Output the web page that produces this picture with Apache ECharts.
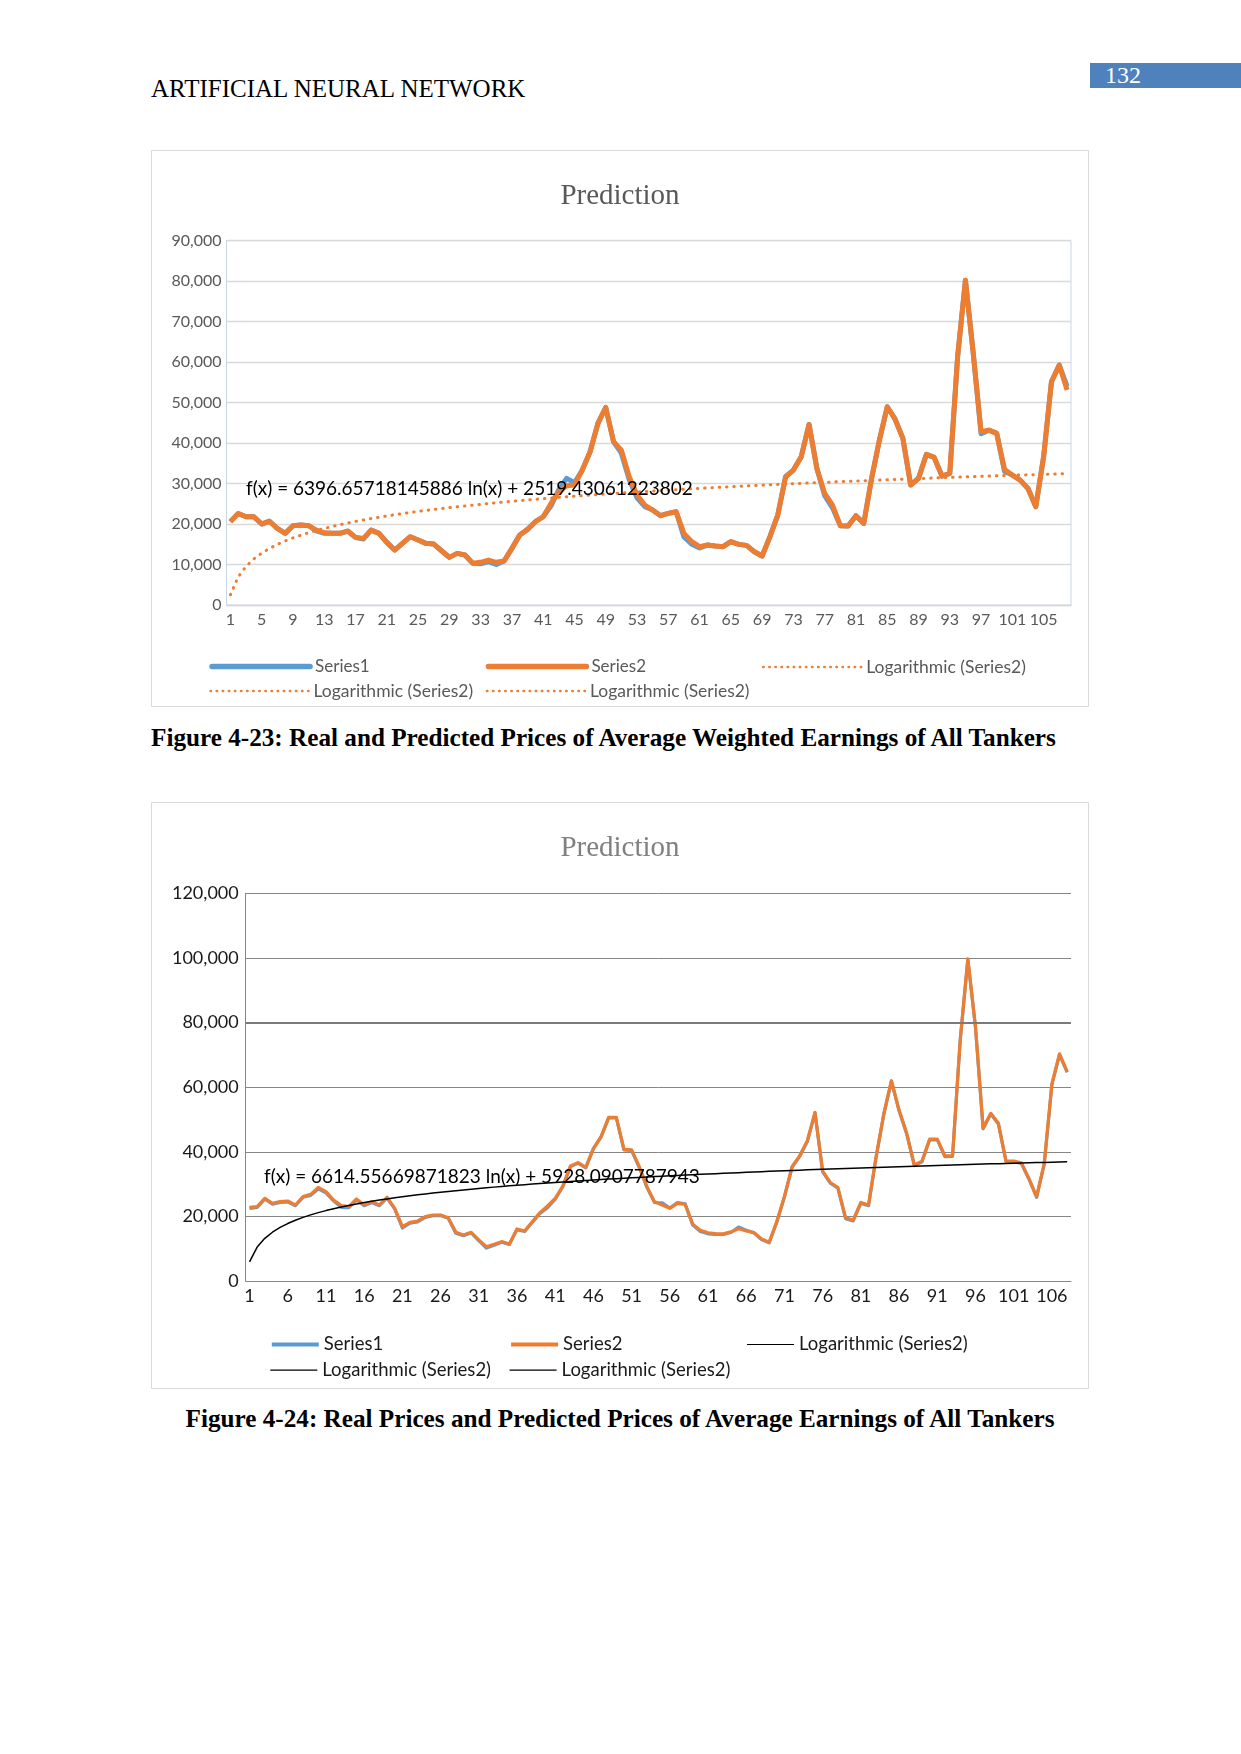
<!DOCTYPE html>
<html>
<head>
<meta charset="utf-8">
<script src="https://cdn.jsdelivr.net/npm/echarts@6/dist/echarts.min.js"></script>
<style>
  html, body { margin: 0; padding: 0; background: #fff; }
  #page { position: relative; width: 1241px; height: 1754px; overflow: hidden; background: #fff; }
  .abs { position: absolute; white-space: nowrap; }
  #header { left: 151px; top: 77px; font: 25px/24px "Liberation Serif", serif; color: #000; }
  #pagebox { left: 1090px; top: 63px; width: 151px; height: 25px; background: #4F81BD; color: #fff;
             font: 24px/25px "Liberation Serif", serif; padding-left: 15px; box-sizing: border-box; }
  .caption { font: bold 25.2px/24px "Liberation Serif", serif; color: #000; }
  #cap1 { left: 151px; top: 726px; }
  #cap2 { left: 0; width: 1240px; text-align: center; top: 1407px; }
  #chart1 { left: 151px; top: 150px; width: 938px; height: 557px; }
  #chart2 { left: 151px; top: 802px; width: 938px; height: 587px; }
</style>
</head>
<body>
<div id="page">
  <div id="header" class="abs">ARTIFICIAL NEURAL NETWORK</div>
  <div id="pagebox" class="abs">132</div>
  <div id="chart1" class="abs"></div>
  <div id="cap1" class="abs caption">Figure 4-23: Real and Predicted Prices of Average Weighted Earnings of All Tankers</div>
  <div id="chart2" class="abs"></div>
  <div id="cap2" class="abs caption">Figure 4-24: Real Prices and Predicted Prices of Average Earnings of All Tankers</div>
</div>
<script>
// ---------- data ----------
const categories = [];
for (let i = 1; i <= 108; i++) categories.push(String(i));

const chart1YTicks = [0, 10000, 20000, 30000, 40000, 50000, 60000, 70000, 80000, 90000];
const chart2YTicks = [0, 20000, 40000, 60000, 80000, 100000, 120000];

// Figure 4-23
const chart1Series1 = [
  20600, 22600, 21800, 21800, 20000, 20700, 18900, 17700, 19600, 19750,
  19600, 18300, 17700, 17700, 17700, 18270, 16700, 16300, 18500, 17700,
  15470, 13580, 15230, 16870, 16050, 15230, 15060, 13400, 11770, 12760,
  12350, 10290, 10200, 10700, 10000, 10860, 14000, 17280, 18680, 20580,
  21800, 24500, 28500, 31300, 30200, 33330, 37860, 44860, 48800, 40330,
  37500, 31000, 26500, 24300, 23460, 22060, 22630, 23050, 16800, 15000,
  14100, 14810, 14570, 14400, 15640, 14980, 14730, 13170, 12100, 16870,
  22220, 31690, 33330, 36630, 44610, 33740, 27000, 24000, 19590, 19500,
  22060, 20160, 31280, 40740, 48970, 45930, 41150, 29630, 31280, 37200,
  36460, 31850, 32510, 61320, 80250, 62140, 42300, 43200, 42390, 33000,
  32100, 30860, 28800, 24280, 36630, 55140, 59260, 54000
];
const chart1Series2 = [
  20600, 22600, 21800, 21800, 20000, 20700, 18900, 17700, 19600, 19750,
  19600, 18500, 17860, 17700, 17700, 18270, 16700, 16460, 18500, 17700,
  15470, 13580, 15230, 16870, 16050, 15230, 15060, 13400, 11770, 12760,
  12350, 10290, 10540, 11100, 10540, 10860, 14000, 17280, 18680, 20580,
  21800, 25100, 28000, 29460, 29630, 33330, 37860, 44860, 48800, 40330,
  38270, 31690, 27160, 24690, 23460, 22060, 22630, 23050, 17700, 15640,
  14400, 14810, 14570, 14400, 15640, 14980, 14730, 13170, 12100, 16870,
  22220, 31690, 33330, 36630, 44610, 33740, 27570, 24690, 19590, 19500,
  22060, 20160, 31280, 40740, 48970, 45930, 41150, 29630, 31280, 37200,
  36460, 31850, 32510, 61320, 80250, 62140, 42800, 43200, 42390, 33500,
  32100, 30860, 28800, 24280, 36630, 55140, 59260, 53090
];
// trendline coefficients as printed on the chart
const chart1TrendA = 6396.65718145886;
const chart1TrendB = 2519.43061223802;
const chart1Equation = 'f(x) = 6396.65718145886 ln(x) + 2519.43061223802';

// Figure 4-24
const chart2Series1 = [
  22500, 22800, 25400, 23800, 24300, 24500, 23300, 25900, 26500, 28500,
  27300, 24800, 22800, 22700, 25100, 23300, 24300, 23300, 25700, 22300,
  16400, 17900, 18300, 19700, 20200, 20300, 19400, 14800, 14000, 14900,
  12500, 10200, 11100, 12000, 11300, 15900, 15300, 18100, 20900, 22700,
  25300, 29200, 35400, 36500, 35000, 40900, 44500, 50500, 50500, 40600,
  40400, 35200, 29000, 24300, 24200, 22600, 24300, 23900, 17300, 15300,
  14600, 14400, 14400, 15000, 16700, 15700, 14900, 12800, 11800, 18200,
  26000, 35200, 38600, 43200, 52000, 33800, 30300, 28700, 19300, 18600,
  24100, 23300, 38300, 51500, 61800, 52700, 45500, 35700, 36900, 43700,
  43700, 38500, 38600, 74400, 99500, 78500, 47100, 51700, 48600, 36900,
  36900, 36400, 31500, 25900, 36200, 60800, 70100, 64600
];
const chart2Series2 = [
  22800, 23010, 25590, 24050, 24560, 24770, 23530, 26110, 26830, 29000,
  27660, 25080, 23320, 23010, 25390, 23530, 24560, 23530, 25900, 22500,
  16820, 18160, 18580, 19920, 20430, 20430, 19610, 15070, 14240, 15070,
  12690, 10630, 11350, 12180, 11460, 16100, 15480, 18370, 21160, 23220,
  25590, 29410, 35600, 36640, 35190, 41070, 44690, 50670, 50670, 40760,
  40560, 35400, 29200, 24500, 23500, 22500, 24000, 23700, 17600, 15700,
  14900, 14700, 14600, 15200, 16200, 15500, 15000, 13000, 12000, 18400,
  26200, 35400, 38800, 43400, 52200, 34000, 30500, 28900, 19600, 18900,
  24300, 23500, 38500, 51700, 62000, 52900, 45700, 35900, 37100, 43900,
  43900, 38700, 38800, 74600, 99700, 78700, 47300, 51900, 48800, 37100,
  37100, 36600, 31700, 26100, 36400, 61000, 70300, 64800
];
const chart2TrendA = 6614.55669871823;
const chart2TrendB = 5928.0907787943;
const chart2Equation = 'f(x) = 6614.55669871823 ln(x) + 5928.0907787943';

const legendNames = ['Series1', 'Series2', 'Logarithmic (Series2)'];

// trendline points from the printed equation, one per category (x = 1..108)
const chart1Trend = categories.map((c, i) => chart1TrendA * Math.log(i + 1) + chart1TrendB);
const chart2Trend = categories.map((c, i) => chart2TrendA * Math.log(i + 1) + chart2TrendB);

// ---------- helpers ----------
const fmt = v => String(v).replace(/\B(?=(\d{3})+(?!\d))/g, ',');

function legendItem(name, left, centerY, iconW, fontSize, color, lineStyle) {
  return {
    data: [{ name: name, itemStyle: { opacity: 0 } }],
    left: left, top: centerY - 10,
    itemWidth: iconW, itemHeight: 20,
    padding: 0, selectedMode: false,
    lineStyle: lineStyle,
    textStyle: { fontFamily: 'Lato', fontSize: fontSize, color: color }
  };
}

const c1Solid1 = { color: '#5B9BD5', width: 5.5, type: 'solid', cap: 'round' };
const c1Solid2 = { color: '#ED7D31', width: 5.5, type: 'solid', cap: 'round' };
const c1Dot = { color: '#ED7D31', width: 2.4, type: [0.5, 5.6], cap: 'round' };
const c2Solid1 = { color: '#5B9BD5', width: 4.2, type: 'solid' };
const c2Solid2 = { color: '#ED7D31', width: 4.2, type: 'solid' };
const c2Log = { color: '#000000', width: 1.2, type: 'solid' };

// ---------- chart 1 ----------
const c1 = echarts.init(document.getElementById('chart1'), null, { renderer: 'canvas' });
c1.setOption({
  animation: false,
  title: {
    text: 'Prediction', left: 'center', top: 32, padding: 0,
    textStyle: { fontFamily: 'Liberation Serif', fontSize: 29, fontWeight: 'normal', color: '#595959' }
  },
  grid: {
    left: 75.5, top: 90.7, width: 844.5, height: 364.3,
    show: true, borderColor: '#c8d6ec', borderWidth: 1, backgroundColor: 'transparent'
  },
  legend: [
    legendItem(legendNames[0], 58.3, 518, 98, 17, '#595959', c1Solid1),
    legendItem(legendNames[1], 334.7, 518, 98, 17, '#595959', c1Solid2),
    legendItem(legendNames[2], 611, 518, 98, 17.5, '#595959', c1Dot),
    legendItem(legendNames[2], 58.3, 542, 98, 17.5, '#595959', c1Dot),
    legendItem(legendNames[2], 334.7, 542, 98, 17.5, '#595959', c1Dot)
  ],
  xAxis: {
    type: 'category', data: categories, boundaryGap: true,
    axisLine: { show: true, lineStyle: { color: '#d9d9d9', width: 1.3 } },
    axisTick: { show: false },
    axisLabel: { interval: 3, color: '#595959', fontFamily: 'Lato', fontSize: 16, margin: 7 },
    splitLine: { show: false }
  },
  yAxis: {
    type: 'value', min: chart1YTicks[0], max: chart1YTicks[chart1YTicks.length - 1], interval: 10000,
    axisLine: { show: true, lineStyle: { color: '#c8d6ec', width: 1 } },
    axisTick: { show: false },
    axisLabel: { color: '#595959', fontFamily: 'Lato', fontSize: 16, margin: 5, formatter: fmt },
    splitLine: { show: true, lineStyle: { color: '#d9d9d9', width: 1.3 } }
  },
  series: [
    { name: legendNames[0], type: 'line', data: chart1Series1, symbol: 'none', z: 2,
      lineStyle: { color: '#5B9BD5', width: 5, join: 'round' }, itemStyle: { color: '#5B9BD5' } },
    { name: legendNames[1], type: 'line', data: chart1Series2, symbol: 'none', z: 3,
      lineStyle: { color: '#ED7D31', width: 5, join: 'round' }, itemStyle: { color: '#ED7D31' } },
    { name: legendNames[2], type: 'line', data: chart1Trend, symbol: 'none', z: 4, smooth: false,
      lineStyle: { color: '#ED7D31', width: 3, type: [0.5, 6.8], cap: 'round' }, itemStyle: { color: '#ED7D31' } }
  ],
  graphic: [
    { type: 'rect', shape: { x: 0.5, y: 0.5, width: 937, height: 556 }, style: { fill: 'none', stroke: '#d9d9d9', lineWidth: 1 }, silent: true, z: -1 },
    { type: 'text', left: 95, top: 329, z: 100, silent: true,
      style: { text: chart1Equation, fontFamily: 'Lato', fontSize: 19, fill: '#000' } }
  ]
});

// ---------- chart 2 ----------
const c2 = echarts.init(document.getElementById('chart2'), null, { renderer: 'canvas' });
c2.setOption({
  animation: false,
  title: {
    text: 'Prediction', left: 'center', top: 32, padding: 0,
    textStyle: { fontFamily: 'Liberation Serif', fontSize: 29, fontWeight: 'normal', color: '#808080' }
  },
  grid: { left: 94.7, top: 91.3, width: 825.3, height: 387.7 },
  legend: [
    legendItem(legendNames[0], 118.7, 543, 47, 18.5, '#1a1a1a', c2Solid1),
    legendItem(legendNames[1], 358, 543, 47, 18.5, '#1a1a1a', c2Solid2),
    legendItem(legendNames[2], 595.4, 543, 47, 18.5, '#1a1a1a', c2Log),
    legendItem(legendNames[2], 118.7, 568.7, 47, 18.5, '#1a1a1a', c2Log),
    legendItem(legendNames[2], 358, 568.7, 47, 18.5, '#1a1a1a', c2Log)
  ],
  xAxis: {
    type: 'category', data: categories, boundaryGap: true,
    axisLine: { show: true, lineStyle: { color: '#868686', width: 1 } },
    axisTick: { show: false },
    axisLabel: { interval: 4, color: '#1a1a1a', fontFamily: 'Lato', fontSize: 18, margin: 6 },
    splitLine: { show: false }
  },
  yAxis: {
    type: 'value', min: chart2YTicks[0], max: chart2YTicks[chart2YTicks.length - 1], interval: 20000,
    axisLine: { show: true, lineStyle: { color: '#868686', width: 1 } },
    axisTick: { show: false },
    axisLabel: { color: '#1a1a1a', fontFamily: 'Lato', fontSize: 18, margin: 7, formatter: fmt },
    splitLine: { show: true, lineStyle: { color: '#868686', width: 1 } }
  },
  series: [
    { name: legendNames[0], type: 'line', data: chart2Series1, symbol: 'none', z: 2,
      lineStyle: { color: '#5B9BD5', width: 3.2, join: 'round' }, itemStyle: { color: '#5B9BD5' },
      markLine: { silent: true, symbol: 'none', label: { show: false },
        lineStyle: { color: '#7a7a7a', width: 2.2, type: 'solid' }, data: [{ yAxis: 80000 }] } },
    { name: legendNames[1], type: 'line', data: chart2Series2, symbol: 'none', z: 3,
      lineStyle: { color: '#ED7D31', width: 3.2, join: 'round' }, itemStyle: { color: '#ED7D31' } },
    { name: legendNames[2], type: 'line', data: chart2Trend, symbol: 'none', z: 4,
      lineStyle: { color: '#000000', width: 1.5 }, itemStyle: { color: '#000000' } }
  ],
  graphic: [
    { type: 'rect', shape: { x: 0.5, y: 0.5, width: 937, height: 586 }, style: { fill: 'none', stroke: '#d9d9d9', lineWidth: 1 }, silent: true, z: -1 },
    { type: 'text', left: 113, top: 365, z: 100, silent: true,
      style: { text: chart2Equation, fontFamily: 'Lato', fontSize: 19, fill: '#000' } }
  ]
});
</script>
</body>
</html>
